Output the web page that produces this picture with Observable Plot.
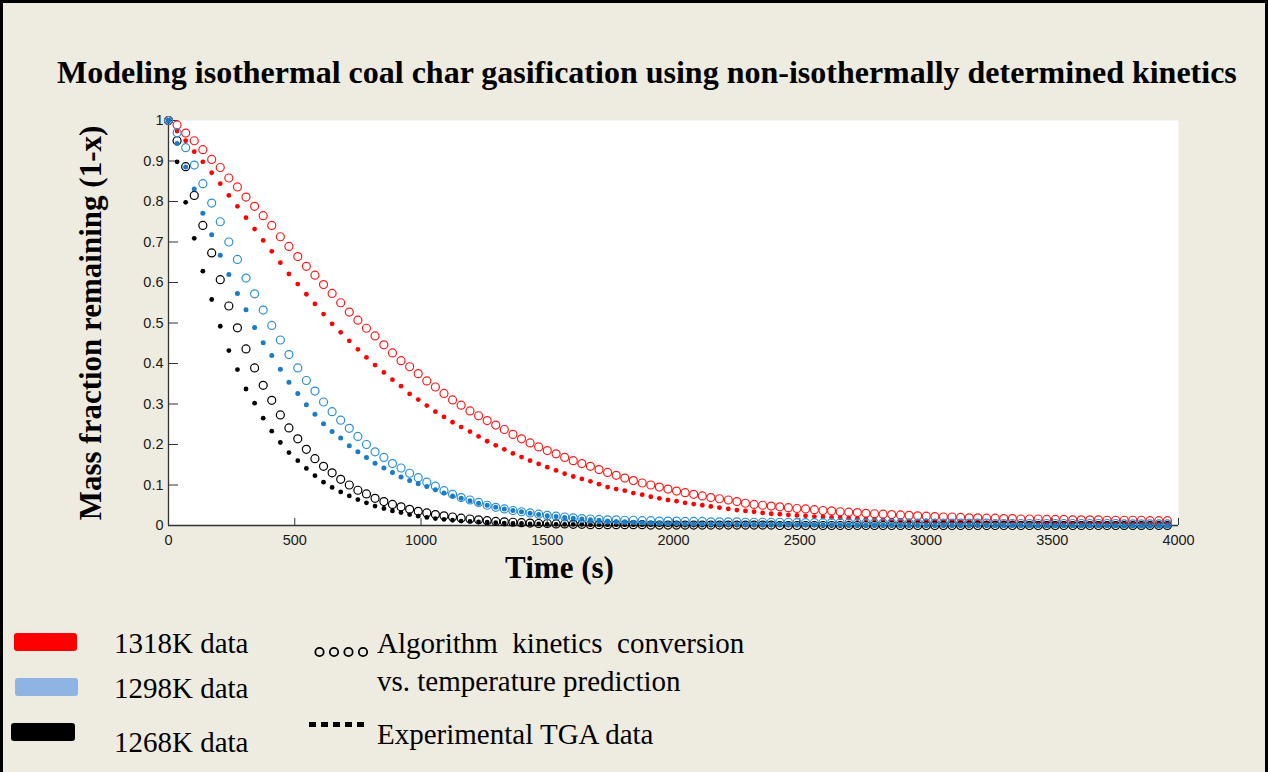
<!DOCTYPE html>
<html>
<head>
<meta charset="utf-8">
<script src="https://cdn.jsdelivr.net/npm/d3@7"></script>
<script src="https://cdn.jsdelivr.net/npm/@observablehq/plot@0.6"></script>
<style>
html,body{margin:0;padding:0;background:#EEEBE0;}
#page{position:relative;width:1268px;height:772px;overflow:hidden;background:#EEEBE0;}
#border{position:absolute;left:0;top:0;width:1268px;height:772px;box-sizing:border-box;border:3px solid #000;border-bottom:none;pointer-events:none;}
.serif{font-family:"Liberation Serif","Times New Roman",serif;color:#000;position:absolute;line-height:1;white-space:pre;}
#title{left:57px;top:56px;font-size:32px;font-weight:bold;}
.leg{font-size:29px;}
.sw{position:absolute;border-radius:3px;}
#chart{position:absolute;left:0;top:100px;}
#chart g[aria-label="y-axis tick label"], #chart g[aria-label="x-axis tick label"]{font-size:14.5px;}
</style>
</head>
<body>
<div id="page">
  <div id="title" class="serif">Modeling isothermal coal char gasification using non-isothermally determined kinetics</div>
  <div id="chart"></div>
  <div class="sw" style="left:14px;top:633px;width:63px;height:18px;background:#ff0000"></div>
  <div class="sw" style="left:15px;top:678px;width:63px;height:18px;background:#8db4e2"></div>
  <div class="sw" style="left:11px;top:723px;width:64px;height:18px;background:#000"></div>
  <div class="serif leg" style="left:114px;top:629px">1318K data</div>
  <div class="serif leg" style="left:114px;top:674px">1298K data</div>
  <div class="serif leg" style="left:114px;top:728px">1268K data</div>
  <svg style="position:absolute;left:313px;top:645px" width="60" height="14">
    <circle cx="6.5" cy="7" r="4.2" fill="none" stroke="#000" stroke-width="1.8"/>
    <circle cx="21" cy="7" r="4.2" fill="none" stroke="#000" stroke-width="1.8"/>
    <circle cx="35.5" cy="7" r="4.2" fill="none" stroke="#000" stroke-width="1.8"/>
    <circle cx="50" cy="7" r="4.2" fill="none" stroke="#000" stroke-width="1.8"/>
  </svg>
  <svg style="position:absolute;left:309px;top:721px" width="55" height="7">
    <line x1="0" y1="3.5" x2="55" y2="3.5" stroke="#000" stroke-width="5" stroke-dasharray="7 5"/>
  </svg>
  <div class="serif leg" style="left:377px;top:629px">Algorithm  kinetics  conversion</div>
  <div class="serif leg" style="left:377px;top:667px">vs. temperature prediction</div>
  <div class="serif leg" style="left:377px;top:720px">Experimental TGA data</div>
  <div id="border"></div>
</div>
<script>
// Time (s) of each sample
const times = [0,34,68,102,136,171,205,239,273,307,341,375,409,443,477,512,546,580,614,648,682,716,750,784,818,853,887,921,955,989,1023,1057,1091,1125,1159,1194,1228,1262,1296,1330,1364,1398,1432,1466,1500,1535,1569,1603,1637,1671,1705,1739,1773,1807,1841,1876,1910,1944,1978,2012,2046,2080,2114,2148,2182,2217,2251,2285,2319,2353,2387,2421,2455,2489,2523,2558,2592,2626,2660,2694,2728,2762,2796,2830,2864,2899,2933,2967,3001,3035,3069,3103,3137,3171,3205,3240,3274,3308,3342,3376,3410,3444,3478,3512,3546,3581,3615,3649,3683,3717,3751,3785,3819,3853,3887,3922,3956];

// Algorithm kinetics prediction (open circles)
const model1318 = [
1.000,0.989,0.969,0.950,0.928,0.904,0.884,0.858,0.836,0.811,
0.788,0.765,0.741,0.713,0.689,0.664,0.640,0.618,0.595,0.573,
0.550,0.527,0.507,0.487,0.468,0.446,0.426,0.407,0.392,0.375,
0.357,0.342,0.326,0.310,0.297,0.283,0.271,0.259,0.248,0.237,
0.225,0.214,0.204,0.194,0.185,0.177,0.168,0.160,0.153,0.146,
0.138,0.131,0.124,0.117,0.111,0.105,0.100,0.095,0.090,0.085,
0.081,0.077,0.073,0.069,0.066,0.063,0.059,0.055,0.052,0.050,
0.048,0.046,0.044,0.042,0.041,0.039,0.037,0.036,0.034,0.033,
0.032,0.030,0.029,0.028,0.027,0.026,0.025,0.024,0.023,0.022,
0.021,0.021,0.020,0.019,0.019,0.018,0.018,0.017,0.017,0.016,
0.016,0.016,0.015,0.015,0.015,0.014,0.014,0.014,0.014,0.013,
0.013,0.013,0.013,0.013,0.012,0.012,0.012];
const model1298 = [
1.000,0.970,0.933,0.890,0.844,0.796,0.750,0.700,0.657,0.611,
0.572,0.532,0.494,0.458,0.422,0.389,0.358,0.332,0.305,0.281,
0.260,0.240,0.220,0.200,0.182,0.168,0.153,0.142,0.129,0.118,
0.107,0.097,0.086,0.077,0.069,0.063,0.057,0.050,0.045,0.041,
0.037,0.034,0.031,0.028,0.025,0.023,0.021,0.019,0.017,0.016,
0.015,0.014,0.014,0.013,0.013,0.012,0.012,0.011,0.011,0.011,
0.010,0.010,0.010,0.009,0.009,0.009,0.009,0.008,0.008,0.008,
0.008,0.008,0.008,0.007,0.007,0.007,0.007,0.007,0.007,0.006,
0.006,0.006,0.006,0.006,0.006,0.006,0.006,0.006,0.006,0.006,
0.006,0.006,0.006,0.006,0.006,0.006,0.005,0.005,0.005,0.005,
0.005,0.005,0.005,0.005,0.005,0.005,0.005,0.005,0.005,0.005,
0.005,0.004,0.004,0.004,0.004,0.004,0.004];
const model1268 = [
1.000,0.950,0.886,0.815,0.741,0.673,0.607,0.542,0.488,0.436,
0.389,0.346,0.309,0.273,0.241,0.214,0.188,0.165,0.146,0.130,
0.114,0.100,0.087,0.078,0.067,0.059,0.052,0.046,0.040,0.035,
0.031,0.027,0.024,0.021,0.018,0.016,0.014,0.012,0.010,0.009,
0.008,0.007,0.006,0.005,0.005,0.004,0.004,0.003,0.003,0.002,
0.002,0.002,0.002,0.002,0.002,0.002,0.001,0.001,0.001,0.001,
0.001,0.001,0.001,0.001,0.001,0.001,0.001,0.001,0.001,0.001,
0.001,0,0,0,0,0,0,0,0,0,
0,0,0,0,0,0,0,0,0,0,
0,0,0,0,0,0,0,0,0,0,
0,0,0,0,0,0,0,0,0,0,
0,0,0,0,0,0,0];

// Experimental TGA data (filled dots)
const exp1318 = [
1.000,0.974,0.950,0.923,0.898,0.871,0.844,0.815,0.788,0.760,
0.732,0.704,0.677,0.649,0.621,0.596,0.571,0.547,0.522,0.498,
0.477,0.456,0.435,0.415,0.396,0.378,0.360,0.344,0.325,0.311,
0.296,0.281,0.268,0.255,0.243,0.232,0.220,0.208,0.198,0.188,
0.178,0.169,0.160,0.152,0.144,0.136,0.128,0.121,0.115,0.109,
0.102,0.095,0.090,0.086,0.080,0.076,0.071,0.067,0.063,0.060,
0.056,0.053,0.050,0.047,0.044,0.041,0.038,0.036,0.034,0.031,
0.029,0.028,0.026,0.025,0.024,0.022,0.021,0.020,0.019,0.018,
0.017,0.016,0.015,0.014,0.013,0.012,0.011,0.011,0.010,0.010,
0.009,0.009,0.008,0.008,0.008,0.007,0.007,0.007,0.007,0.006,
0.006,0.006,0.006,0.006,0.006,0.005,0.005,0.005,0.005,0.005,
0.005,0.004,0.004,0.004,0.004,0.004,0.004];
const exp1298 = [
1.000,0.943,0.885,0.831,0.771,0.718,0.667,0.620,0.573,0.533,
0.489,0.451,0.420,0.386,0.354,0.326,0.298,0.275,0.251,0.232,
0.216,0.197,0.182,0.168,0.154,0.142,0.131,0.120,0.111,0.103,
0.096,0.088,0.080,0.073,0.067,0.061,0.055,0.050,0.045,0.041,
0.037,0.034,0.030,0.027,0.024,0.022,0.020,0.018,0.016,0.014,
0.013,0.011,0.010,0.009,0.008,0.007,0.006,0.006,0.005,0.005,
0.004,0.004,0.004,0.004,0.004,0.003,0.003,0.003,0.003,0.003,
0.003,0.003,0.003,0.002,0.002,0.002,0.002,0.002,0.002,0.002,
0.002,0.002,0.002,0.002,0.002,0.001,0.001,0.001,0.001,0.001,
0.001,0.001,0.001,0.001,0.001,0.001,0.001,0.001,0.001,0.001,
0.001,0,0,0,0,0,0,0,0,0,
0,0,0,0,0,0,0];
const exp1268 = [
1.000,0.898,0.798,0.709,0.628,0.558,0.492,0.432,0.385,0.337,
0.302,0.265,0.233,0.205,0.180,0.160,0.141,0.123,0.107,0.094,
0.083,0.073,0.064,0.056,0.048,0.042,0.036,0.032,0.027,0.023,
0.020,0.017,0.015,0.013,0.011,0.010,0.009,0.008,0.007,0.006,
0.005,0.005,0.004,0.004,0.003,0.003,0.003,0.003,0.003,0.002,
0.002,0.002,0.002,0.002,0.002,0.002,0.002,0.002,0.002,0.001,
0.001,0.001,0.001,0.001,0.001,0.001,0.001,0.001,0.001,0.001,
0.001,0.001,0.001,0.001,0.001,0.001,0,0,0,0,
0,0,0,0,0,0,0,0,0,0,
0,0,0,0,0,0,0,0,0,0,
0,0,0,0,0,0,0,0,0,0,
0,0,0,0,0,0,0];

const xTicks = [0,500,1000,1500,2000,2500,3000,3500,4000];
const yTicks = [0,0.1,0.2,0.3,0.4,0.5,0.6,0.7,0.8,0.9,1];

const rows = vals => times.map((t, i) => ({t, v: vals[i]}));
const serif = "'Liberation Serif','Times New Roman',serif";

const chart = Plot.plot({
  width: 1268,
  height: 500,
  marginTop: 20,
  marginBottom: 75,
  marginLeft: 168,
  marginRight: 90,
  style: {background: "transparent", fontFamily: "'Liberation Sans',Arial,sans-serif", fontSize: "14px", color: "#1a1a1a", overflow: "visible"},
  x: {domain: [0, 4000]},
  y: {domain: [0, 1]},
  marks: [
    Plot.frame({fill: "#ffffff", stroke: null}),
    Plot.ruleX([0], {stroke: "#333", strokeWidth: 1.3}),
    Plot.ruleY([0], {stroke: "#333", strokeWidth: 1.3}),
    Plot.axisY({ticks: yTicks, tickSize: 10, dx: 10, tickFormat: () => "", label: null, stroke: "#333"}),
    Plot.axisY({ticks: yTicks, tickSize: 0, tickPadding: 5, tickFormat: d => String(d), label: null}),
    Plot.axisX({ticks: xTicks, tickSize: 7, dy: -7, tickFormat: () => "", label: null, stroke: "#333"}),
    Plot.axisX({ticks: xTicks, tickSize: 0, tickPadding: 9, tickFormat: d => String(d), label: null}),
    Plot.dot(rows(model1318), {x: "t", y: "v", r: 4, stroke: "#ff1a1a", strokeWidth: 1.2, fill: "none"}),
    Plot.dot(rows(exp1318), {x: "t", y: "v", r: 2.4, fill: "#ff0000", stroke: null}),
    Plot.dot(rows(model1268), {x: "t", y: "v", r: 4, stroke: "#000", strokeWidth: 1.2, fill: "none"}),
    Plot.dot(rows(exp1268), {x: "t", y: "v", r: 2.4, fill: "#000", stroke: null}),
    Plot.dot(rows(model1298), {x: "t", y: "v", r: 4, stroke: "#2b8fd6", strokeWidth: 1.2, fill: "none"}),
    Plot.dot(rows(exp1298), {x: "t", y: "v", r: 2.5, fill: "#1a7cc4", stroke: null}),
    Plot.text(["Mass fraction remaining (1-x)"], {frameAnchor: "left", textAnchor: "middle", dx: -77, rotate: -90, fontSize: 31, fontWeight: "bold", fontFamily: serif, fill: "#000"}),
    Plot.text(["Time (s)"], {frameAnchor: "bottom", textAnchor: "middle", dx: -114, dy: 52, fontSize: 31, fontWeight: "bold", fontFamily: serif, fill: "#000"})
  ]
});
document.getElementById("chart").appendChild(chart);
</script>
</body>
</html>
